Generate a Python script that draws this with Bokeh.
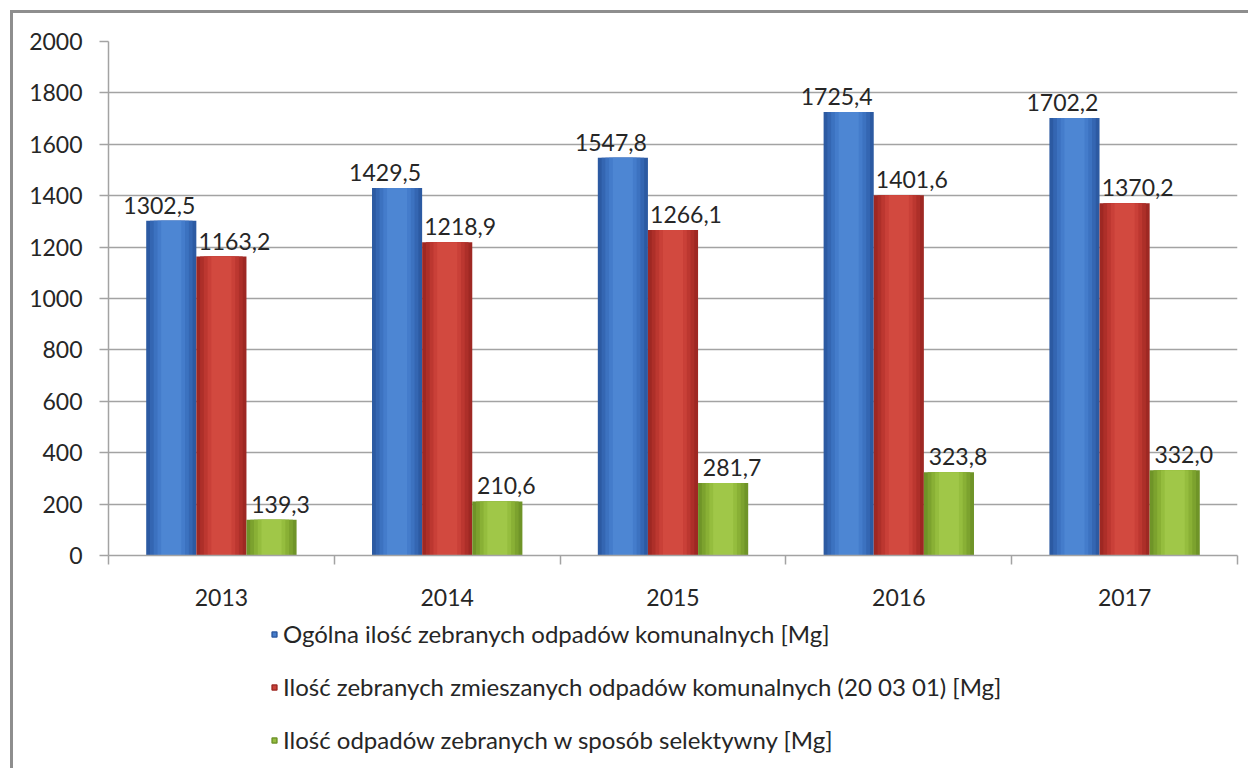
import numpy as np
from bokeh.plotting import figure
from bokeh.layouts import column
from bokeh.models import ColumnDataSource, Range1d, FixedTicker, Legend, LegendItem
from bokeh.core.properties import value
from bokeh.embed import file_html
from bokeh.resources import INLINE

# ---- data ----
years = ["2013", "2014", "2015", "2016", "2017"]
total = [1302.5, 1429.5, 1547.8, 1725.4, 1702.2]
mixed = [1163.2, 1218.9, 1266.1, 1401.6, 1370.2]
selective = [139.3, 210.6, 281.7, 323.8, 332.0]
series_names = [
    "Ogólna ilość zebranych odpadów komunalnych [Mg]",
    "Ilość zebranych zmieszanych odpadów komunalnych (20 03 01) [Mg]",
    "Ilość odpadów zebranych w sposób selektywny [Mg]",
]
y_ticks = [0, 200, 400, 600, 800, 1000, 1200, 1400, 1600, 1800, 2000]

# ---- style ----
FONT = "Lato"
FS = "23px"
TXT = "#262626"
GRID = "#a3a3a3"
FRAME = "3px solid #8e8e8e"
shade = [  # from edge to centre
    ["#2c5aa2", "#3466b2", "#3c72c0", "#447ccb", "#4d86d3"],
    ["#9e2823", "#ad2f29", "#bc3730", "#c94038", "#d2493f"],
    ["#6f9428", "#7ca22e", "#89b035", "#95bd3e", "#a0c748"],
]
shade_w = [1.0, 0.85, 0.7, 0.55, 0.4]
bar_w = 0.222
offsets = [-0.222, 0.0, 0.222]
label_dx = [-12, 13, 9]

n = len(years)
centers = np.arange(n)

p = figure(
    width=1238, height=608, sizing_mode="fixed",
    x_range=Range1d(-0.5, n - 0.5),
    y_range=Range1d(0, 2000),
    output_backend="svg", toolbar_location=None,
    min_border_left=95, min_border_right=14, min_border_top=28, min_border_bottom=66,
    background_fill_color="white", border_fill_color="white",
)
p.styles = {"border-left": FRAME, "border-top": FRAME,
            "margin-left": "10px", "margin-top": "10px"}
p.outline_line_color = None

# legend-only figure below the chart (its view range holds none of the points)
p2 = figure(
    width=1238, height=150, sizing_mode="fixed",
    x_range=Range1d(100, 101), y_range=Range1d(-101, -100),
    x_axis_location=None, y_axis_location=None,
    output_backend="svg", toolbar_location=None,
    min_border=0, background_fill_color="white", border_fill_color="white",
)
p2.styles = {"border-left": FRAME, "margin-left": "10px"}
p2.outline_line_color = None
p2.xgrid.grid_line_color = None
p2.ygrid.grid_line_color = None

legend_items = []
for k, vals in enumerate([total, mixed, selective]):
    xs = centers + offsets[k]
    src = ColumnDataSource(dict(
        x=xs, top=vals,
        lab=[f"{v:.1f}".replace(".", ",") for v in vals],
    ))
    for c, w in zip(shade[k], shade_w):
        p.vbar(x="x", top="top", bottom=0, width=bar_w * w, source=src,
               fill_color=c, line_color=None)
    p.text(x="x", y="top", text="lab", source=src,
           x_offset=label_dx[k], y_offset=-7,
           text_font=value(FONT), text_font_size=FS, text_color=TXT,
           text_align="center", text_baseline="bottom")
    swatch = p2.scatter(x="x", y="top", source=src, marker="square", size=12,
                        fill_color=shade[k][3], line_color=shade[k][0], line_width=1.5)
    legend_items.append(LegendItem(label=series_names[k], renderers=[swatch]))

# y axis
p.yaxis.ticker = FixedTicker(ticks=y_ticks)
p.yaxis.axis_line_color = GRID
p.yaxis.axis_line_width = 1.5
p.yaxis.major_tick_line_color = GRID
p.yaxis.major_tick_line_width = 1.5
p.yaxis.major_tick_out = 9
p.yaxis.major_tick_in = 0
p.yaxis.minor_tick_line_color = None
p.yaxis.major_label_standoff = 17
p.yaxis.major_label_text_font = FONT
p.yaxis.major_label_text_font_size = FS
p.yaxis.major_label_text_color = TXT

# x axis: labels at centres, tick marks between categories
p.xaxis.ticker = FixedTicker(ticks=list(centers),
                             minor_ticks=list(np.arange(n + 1) - 0.5))
p.xaxis.major_label_overrides = {int(c): y for c, y in zip(centers, years)}
p.xaxis.axis_line_color = GRID
p.xaxis.axis_line_width = 1.5
p.xaxis.major_tick_line_color = None
p.xaxis.major_tick_out = 0
p.xaxis.major_tick_in = 0
p.xaxis.minor_tick_line_color = GRID
p.xaxis.minor_tick_line_width = 1.5
p.xaxis.minor_tick_out = 9
p.xaxis.minor_tick_in = 0
p.xaxis.major_label_standoff = 24
p.xaxis.major_label_text_font = FONT
p.xaxis.major_label_text_font_size = FS
p.xaxis.major_label_text_color = TXT

p.xgrid.grid_line_color = None
p.ygrid.ticker = FixedTicker(ticks=y_ticks)
p.ygrid.grid_line_color = GRID
p.ygrid.grid_line_width = 1.5

legend = Legend(items=legend_items, orientation="vertical", location=(160, 14),
                border_line_color=None, background_fill_alpha=0,
                label_text_font=FONT, label_text_font_size="24px", label_text_color=TXT,
                glyph_width=12, glyph_height=12, label_height=28,
                spacing=24, padding=0, margin=0, label_standoff=3)
p2.add_layout(legend, "center")

layout = column(p, p2, spacing=0)
open("out.html", "w").write(file_html(layout, INLINE))
